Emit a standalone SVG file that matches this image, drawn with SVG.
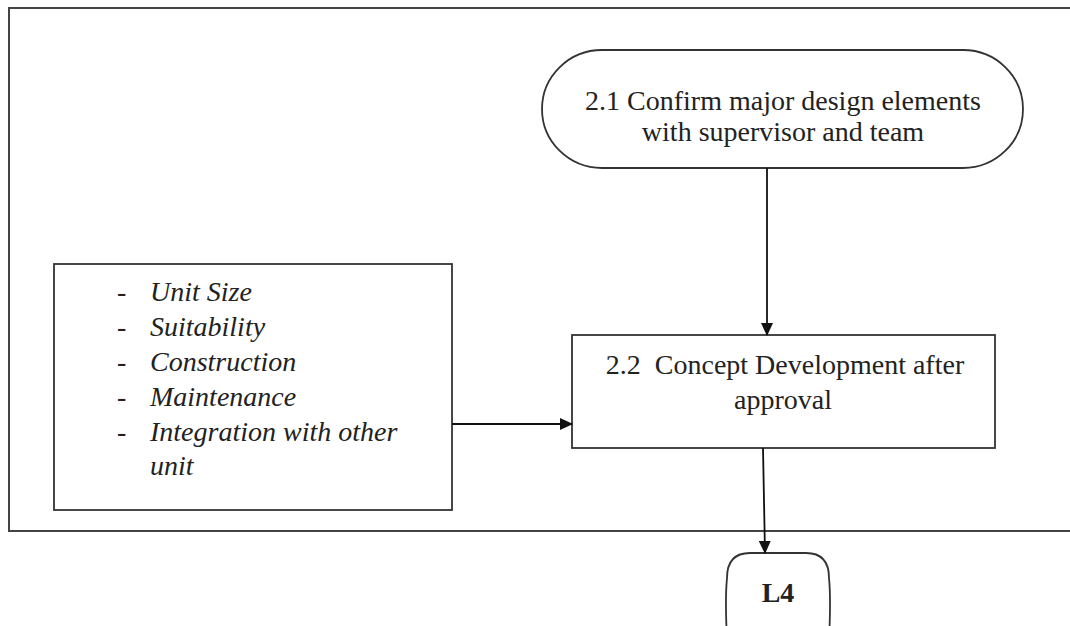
<svg xmlns="http://www.w3.org/2000/svg" width="1070" height="626" viewBox="0 0 1070 626">
<style>
  .shape { fill: #ffffff; stroke: #333333; stroke-width: 1.8; }
  .frame { fill: none; stroke: #444444; stroke-width: 2; }
  .conn { stroke: #111111; stroke-width: 1.8; fill: none; }
  .t { font-family: "Liberation Serif", "Times New Roman", serif; font-size: 28px; fill: #222222; }
  .it { font-style: italic; }
  .b { font-weight: bold; }
</style>
<defs>
  <marker id="arr" markerWidth="13" markerHeight="12" refX="12" refY="6" orient="auto" markerUnits="userSpaceOnUse">
    <path d="M0,0 L13,6 L0,12 Z" fill="#111111"/>
  </marker>
</defs>
<rect width="1070" height="626" fill="#ffffff"/>
<path class="frame" d="M1075,8 H9 V531 H1075"/>
<g id="node-2-1">
  <rect class="shape" x="542" y="50" width="481" height="118" rx="60" ry="59"/>
  <text class="t" x="783" y="110" text-anchor="middle">2.1 Confirm major design elements</text>
  <text class="t" x="783" y="141" text-anchor="middle">with supervisor and team</text>
</g>
<g id="node-2-2">
  <rect class="shape" x="572" y="335" width="423" height="113"/>
  <text class="t" x="785" y="374" text-anchor="middle" xml:space="preserve">2.2  Concept Development after</text>
  <text class="t" x="783" y="409" text-anchor="middle">approval</text>
</g>
<g id="node-list">
  <rect class="shape" x="54" y="264" width="398" height="246"/>
  <g class="t it">
    <text x="117" y="301">-</text><text x="150" y="301">Unit Size</text>
    <text x="117" y="336">-</text><text x="150" y="336">Suitability</text>
    <text x="117" y="371">-</text><text x="150" y="371">Construction</text>
    <text x="117" y="406">-</text><text x="150" y="406">Maintenance</text>
    <text x="117" y="441">-</text><text x="150" y="441">Integration with other</text>
    <text x="150" y="475">unit</text>
  </g>
</g>
<g id="node-L4">
  <path class="shape" d="M750,553 H806 C822,553 829,562 829,578 C831,598 830,620 829,640 H727 C726,620 725,598 727,578 C727,562 734,553 750,553 Z"/>
  <text class="t b" x="778" y="602" text-anchor="middle" font-size="26">L4</text>
</g>
<g id="connectors">
  <line class="conn" x1="767" y1="168" x2="767" y2="335" marker-end="url(#arr)"/>
  <line class="conn" x1="452" y1="424" x2="572" y2="424" marker-end="url(#arr)"/>
  <line class="conn" x1="763" y1="448" x2="765" y2="553" marker-end="url(#arr)"/>
</g>
</svg>
